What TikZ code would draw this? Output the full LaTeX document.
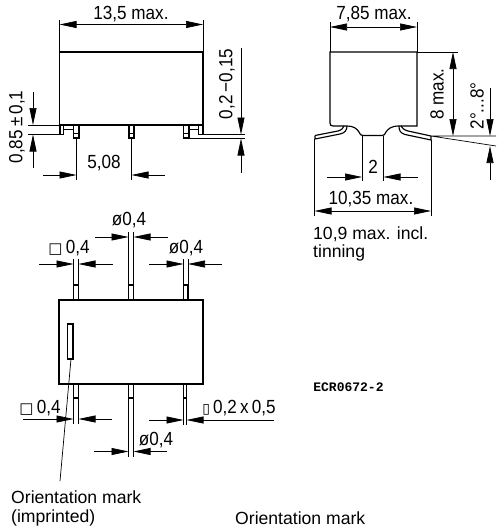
\documentclass[tikz,border=0pt]{standalone}
\usepackage{fontspec}
\setmainfont{Liberation Sans}
\newfontfamily\symf{DejaVu Sans}
\newfontfamily\monof{Liberation Mono}
\newfontfamily\dimf[FakeStretch=0.9]{Liberation Sans}
\usetikzlibrary{arrows.meta}
\tikzset{
  obj/.style={line width=1.15pt,black},
  thin line/.style={line width=0.7pt,black},
  dimline/.style={line width=0.7pt,black,-{Triangle[length=17pt,width=7pt]}},
  dimlab/.style={inner sep=0pt,font=\dimf\fontsize{19}{19}\selectfont},
  txt/.style={inner sep=0pt,anchor=base west,font=\fontsize{17.6}{17.6}\selectfont},
}
\newcommand{\dimsq}{{\symf\fontsize{15}{15}\selectfont □}}
\newcommand{\dimnarrow}{{\symf\fontsize{14}{14}\selectfont ▯}}
\begin{document}
\begin{tikzpicture}[x=1pt,y=-1pt]
\useasboundingbox (0,0) rectangle (500,527);
% ---- side view
\draw[obj] (59.5,52) rectangle (203,125);
\draw[obj] (60,125) -- (60,134.5) -- (63.5,134.5) -- (63.5,125);
\draw[thin line] (63.5,129) -- (73,129);
\draw[obj] (73.5,125) -- (73.5,138) -- (79,138) -- (79,125);
\draw[thin line] (73.5,133.5) -- (79,133.5);
\draw[obj] (129,125) -- (129,138) -- (134,138) -- (134,125);
\draw[thin line] (129,133.5) -- (134,133.5);
\draw[obj] (183.5,125) -- (183.5,138) -- (189,138) -- (189,125);
\draw[thin line] (183.5,133.5) -- (189,133.5);
\draw[obj] (198.5,125) -- (198.5,134.5) -- (203,134.5) -- (203,125);
\draw[thin line] (189,129) -- (198.5,129);
\draw[thin line] (59.5,20) -- (59.5,52) (203,20) -- (203,52);
\draw[dimline] (131,24.5) -- (59.5,24.5);
\draw[dimline] (131,24.5) -- (203,24.5);
\node[dimlab] (a1) at (131,14) {13,5 max.};
\draw[thin line] (76.5,138) -- (76.5,180) (131.5,138) -- (131.5,180);
\draw[dimline] (43,175) -- (76.5,175);
\draw[dimline] (165,175) -- (131.5,175);
\node[dimlab] (a2) at (104,163) {5,08};
\draw[thin line] (28,125) -- (60,125) (28,134.5) -- (60,134.5);
\draw[dimline] (33,92) -- (33,125);
\draw[dimline] (33,168) -- (33,134.5);
\node[dimlab,rotate=90] (a3) at (17,127) {0,85\,±\,0,1};
\draw[thin line] (203,134.5) -- (245,134.5) (183.5,138.5) -- (245,138.5);
\draw[dimline] (241,48) -- (241,134.5);
\draw[dimline] (241,173) -- (241,138.5);
\node[dimlab,rotate=90] (a4) at (227,84) {0,2\,−0,15};
% ---- end view
\draw[obj] (417,52) -- (330,52) -- (330,123) .. controls (330,125) and (331,126) .. (333,126) -- (347,126)
  .. controls (354,126) and (357,129) .. (359,132) .. controls (360,134.5) and (361,135.5) .. (363,135.5)
  -- (382,135.5) .. controls (384,135.5) and (385,134.5) .. (386,132) .. controls (388,129) and (391,126) .. (399,126)
  -- (417,126) -- (417,52);
\draw[obj] (315,135.5) -- (338,131) .. controls (342,130) and (343,128) .. (344,126);
\draw[obj] (315,135.5) -- (315,139) -- (340,134) .. controls (345,133) and (347,130) .. (347,126);
\draw[obj] (431,136) -- (408,131) .. controls (404,130) and (402,128) .. (401,126);
\draw[obj] (431,136) -- (431,140) -- (405,134.5) .. controls (400,133) and (399,130) .. (399,126);
\draw[thin line] (330,22) -- (330,52) (417,22) -- (417,52);
\draw[dimline] (373,27) -- (330,27);
\draw[dimline] (373,27) -- (417,27);
\node[dimlab] (b1) at (374,14) {7,85 max.};
\draw[thin line] (417,52) -- (458,52);
\draw[dimline] (453,94) -- (453,52);
\draw[dimline] (453,94) -- (453,136);
\node[dimlab,rotate=90] (b2) at (437,94) {8 max.};
\draw[thin line] (431,136) -- (496,136) (431,136) -- (496,146);
\draw[dimline] (490,88) -- (490,136);
\draw[dimline] (490,180) -- (490,146);
\node[dimlab,rotate=90] (b3) at (477,106) {2°...8°};
\draw[thin line] (362,136) -- (362,181) (383.5,136) -- (383.5,181);
\draw[dimline] (327,177) -- (362,177);
\draw[dimline] (418,177) -- (383.5,177);
\node[dimlab] (b4) at (373,167) {2};
\draw[thin line] (314.5,139) -- (314.5,216) (431,140) -- (431,216);
\draw[dimline] (372,211) -- (314.5,211);
\draw[dimline] (372,211) -- (431,211);
\node[dimlab] (b5) at (371,199) {10,35 max.};
\node[txt] (b6) at (313,239) {10,9 max. incl.};
\node[txt] (b7) at (313,257) {tinning};
% ---- top view
\draw[obj] (59,300) rectangle (203,384);
\draw[obj] (67.5,324) rectangle (73,359);
\draw[obj] (73.5,300) -- (73.5,285) -- (78.5,285) -- (78.5,300);
\draw[obj] (128.5,300) -- (128.5,285) -- (133.5,285) -- (133.5,300);
\draw[obj] (183.5,300) -- (183.5,285) -- (188,285) -- (188,300);
\draw[thin line] (73.5,259) -- (73.5,285) (78.5,259) -- (78.5,285);
\draw[dimline] (39,264) -- (73.5,264);
\draw[dimline] (113,264) -- (78.5,264);
\node[dimlab] (c1) at (69,248) {\dimsq\,0,4};
\draw[thin line] (128.5,232) -- (128.5,285) (133.5,232) -- (133.5,285);
\draw[dimline] (95,237) -- (128.5,237);
\draw[dimline] (168,237) -- (133.5,237);
\node[dimlab] (c2) at (129,220) {ø0,4};
\draw[thin line] (183.5,259) -- (183.5,285) (188,259) -- (188,285);
\draw[dimline] (149,264) -- (183.5,264);
\draw[dimline] (222,264) -- (188,264);
\node[dimlab] (c3) at (186,248) {ø0,4};
% lower pins
\draw[obj] (73.5,384) -- (73.5,398) -- (78.5,398) -- (78.5,384);
\draw[obj] (128.5,384) -- (128.5,398) -- (133.5,398) -- (133.5,384);
\draw[obj] (183.5,384) -- (183.5,398) -- (186.5,398) -- (186.5,384);
\draw[thin line] (73.5,398) -- (73.5,424) (78.5,398) -- (78.5,424);
\draw[dimline] (23,419) -- (73.5,419);
\draw[dimline] (112,419) -- (78.5,419);
\node[dimlab] (d1) at (40,408) {\dimsq\,0,4};
\draw[thin line] (128.5,398) -- (128.5,457) (133.5,398) -- (133.5,457);
\draw[dimline] (94,451.5) -- (128.5,451.5);
\draw[dimline] (167,451.5) -- (133.5,451.5);
\node[dimlab] (d2) at (156,440) {ø0,4};
\draw[thin line] (183.5,398) -- (183.5,425) (186.5,398) -- (186.5,425);
\draw[dimline] (149,420) -- (183.5,420);
\draw[dimline] (274,420) -- (186.5,420);
\node[dimlab] (d3) at (239,408) {\dimnarrow\,0,2\,x\,0,5};
% leader and notes
\draw[thin line] (71,359) -- (60,481);
\node[txt] (e1) at (11,503) {Orientation mark};
\node[txt] (e2) at (11,522) {(imprinted)};
\node[txt] (e3) at (235,524) {Orientation mark};
\node[inner sep=0pt,font=\monof\bfseries\fontsize{13}{13}\selectfont] (e4) at (348.5,387) {ECR0672-2};
\end{tikzpicture}
\end{document}
